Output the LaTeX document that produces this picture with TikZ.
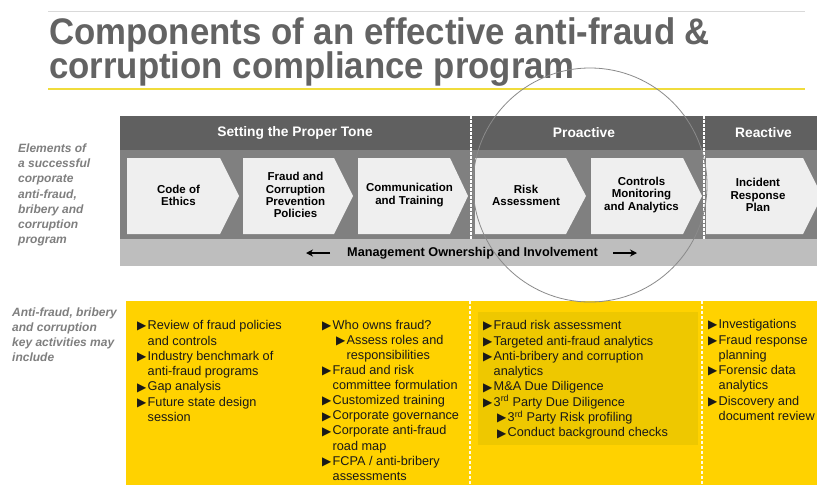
\documentclass[tikz,border=0pt]{standalone}
\usepackage{graphicx}
\usepackage{fontspec}
\setmainfont{Liberation Sans}
\newfontfamily\symfont{DejaVu Sans}
\usetikzlibrary{arrows.meta}
\definecolor{titlegray}{HTML}{636363}
\definecolor{darkband}{HTML}{606060}
\definecolor{midband}{HTML}{808080}
\definecolor{lightband}{HTML}{BEBEBE}
\definecolor{chevfill}{HTML}{EFEFEF}
\definecolor{labelgray}{HTML}{7F7F7F}
\definecolor{eyyellow}{HTML}{FFD200}
\definecolor{inneryellow}{HTML}{EEC800}
\definecolor{rulegray}{HTML}{D9D9D9}
\definecolor{ruleyellow}{HTML}{F0DC3C}
\definecolor{circgray}{HTML}{8A8A8A}
\newcommand{\bulmark}{\makebox[10.5pt][l]{\symfont\fontsize{12}{12}\selectfont\raisebox{-0.2pt}{▶}}}
\newcommand{\contind}{\hspace*{10.5pt}}
\newcommand{\subind}{\hspace*{14pt}}
\newcommand{\firststrut}{\rule{0pt}{10pt}}
\begin{document}
\begin{tikzpicture}[x=1pt,y=-1pt,
  titletext/.style={anchor=base west,inner sep=0,text=titlegray,font=\fontsize{37}{37}\selectfont\bfseries},
  sidelabel/.style={anchor=north west,inner sep=0,align=left,text=labelgray,font=\fontsize{12}{15.1}\selectfont\bfseries\itshape},
  headtext/.style={inner sep=0,text=white,font=\fontsize{13.8}{14}\selectfont\bfseries},
  chevtext/.style={inner sep=0,align=center,text=black,font=\fontsize{11.5}{12.2}\selectfont\bfseries},
  chevshape/.style={fill=chevfill},
  bullist/.style={anchor=north west,inner sep=0,align=left,text=black!90,font=\fontsize{12.7}{15.3}\selectfont},
  wdash/.style={draw=white,line width=1.6pt,dash pattern=on 2.5pt off 1.5pt},
  ydash/.style={draw=white!92!eyyellow,line width=1.2pt,dash pattern=on 3pt off 2pt},
  mgarrow/.style={draw=black,line width=2pt,-{Stealth[length=7pt,width=7pt]}}
]
\useasboundingbox (0,0) rectangle (817,485);
\fill[white] (0,0) rectangle (817,485);

% title
\draw[rulegray,line width=1pt] (48,11) -- (805,11);
\node[titletext] (title1) at (49,44) {\scalebox{0.94}[1]{Components of an effective anti-fraud \&}};
\node[titletext] (title2) at (49,78) {\scalebox{0.94}[1]{corruption compliance program}};
\draw[ruleyellow,line width=2pt] (48,88.5) -- (805,88.5);

% bands
\fill[darkband] (120,116) rectangle (817,150);
\fill[midband] (120,150) rectangle (817,239);
\fill[lightband] (120,239) rectangle (817,266);

% chevrons
\fill[chevshape] (127,158) -- (220,158) -- (239,196) -- (220,234) -- (127,234) -- cycle;
\fill[chevshape] (243,158) -- (334,158) -- (353,196) -- (334,234) -- (243,234) -- cycle;
\fill[chevshape] (358,158) -- (450,158) -- (468,196) -- (450,234) -- (358,234) -- cycle;
\fill[chevshape] (475,158) -- (566,158) -- (586,196) -- (566,234) -- (475,234) -- cycle;
\fill[chevshape] (591,158) -- (683,158) -- (702,196) -- (683,234) -- (591,234) -- cycle;
\fill[chevshape] (706,158) -- (803,158) -- (822,196) -- (803,234) -- (706,234) -- cycle;

\draw[wdash] (471,116) -- (471,239);
\draw[wdash] (704,116) -- (704,239);

% header texts
\node[headtext] (tone) at (295,133) {Setting the Proper Tone};
\node[headtext] (proactive) at (584,133) {Proactive};
\node[headtext] (reactive) at (763.5,133) {Reactive};

% chevron texts
\node[chevtext] (ethics) at (178.5,195) {Code of\\Ethics};
\node[chevtext] (policies) at (295.5,195) {Fraud and\\Corruption\\Prevention\\Policies};
\node[chevtext] (training) at (409.5,195) {Communication\\and Training};
\node[chevtext] (risk) at (526,195) {Risk\\Assessment};
\node[chevtext] (controls) at (641.5,195) {Controls\\Monitoring\\and Analytics};
\node[chevtext] (incident) at (758,195) {Incident\\Response\\Plan};

% management band
\node[inner sep=0,text=black,font=\fontsize{12.7}{13}\selectfont\bfseries] (mgmt) at (472.5,253) {Management Ownership and Involvement};
\coordinate (la1) at (330,253);
\coordinate (la2) at (306,253);
\coordinate (ra1) at (613,253);
\coordinate (ra2) at (637,253);
\draw[mgarrow] (la1) -- (la2);
\draw[mgarrow] (ra1) -- (ra2);

% side labels
\node[sidelabel] (elements) at (18,142.5) {\firststrut Elements of\\a successful\\corporate\\anti-fraud,\\bribery and\\corruption\\program};
\node[sidelabel] (activities) at (12,306) {\firststrut Anti-fraud, bribery\\and corruption\\key activities may\\include};

% yellow panel
\fill[eyyellow] (126,301) rectangle (817,485);
\fill[inneryellow] (478,312) rectangle (698,445);
\draw[ydash] (470,301) -- (470,485);
\draw[ydash] (702,301) -- (702,485);

\node[bullist] (col1) at (137,319.5) {\firststrut\bulmark Review of fraud policies\\
\contind and controls\\
\bulmark Industry benchmark of\\
\contind anti-fraud programs\\
\bulmark Gap analysis\\
\bulmark Future state design\\
\contind session};

\node[bullist,font=\fontsize{12.7}{15.1}\selectfont] (col2) at (322,319) {\firststrut\bulmark Who owns fraud?\\
\subind\bulmark Assess roles and\\
\subind\contind responsibilities\\
\bulmark Fraud and risk\\
\contind committee formulation\\
\bulmark Customized training\\
\bulmark Corporate governance\\
\bulmark Corporate anti-fraud\\
\contind road map\\
\bulmark FCPA / anti-bribery\\
\contind assessments};

\node[bullist] (col3) at (483,319.5) {\firststrut\bulmark Fraud risk assessment\\
\bulmark Targeted anti-fraud analytics\\
\bulmark Anti-bribery and corruption\\
\contind analytics\\
\bulmark M\&A Due Diligence\\
\bulmark 3\textsuperscript{rd} Party Due Diligence\\
\subind\bulmark 3\textsuperscript{rd} Party Risk profiling\\
\subind\bulmark Conduct background checks};

\node[bullist] (col4) at (708,318.5) {\firststrut\bulmark Investigations\\
\bulmark Fraud response\\
\contind planning\\
\bulmark Forensic data\\
\contind analytics\\
\bulmark Discovery and\\
\contind document review};

% circle
\draw[circgray,line width=0.8pt] (590,185) circle[radius=117];
\end{tikzpicture}
\end{document}
